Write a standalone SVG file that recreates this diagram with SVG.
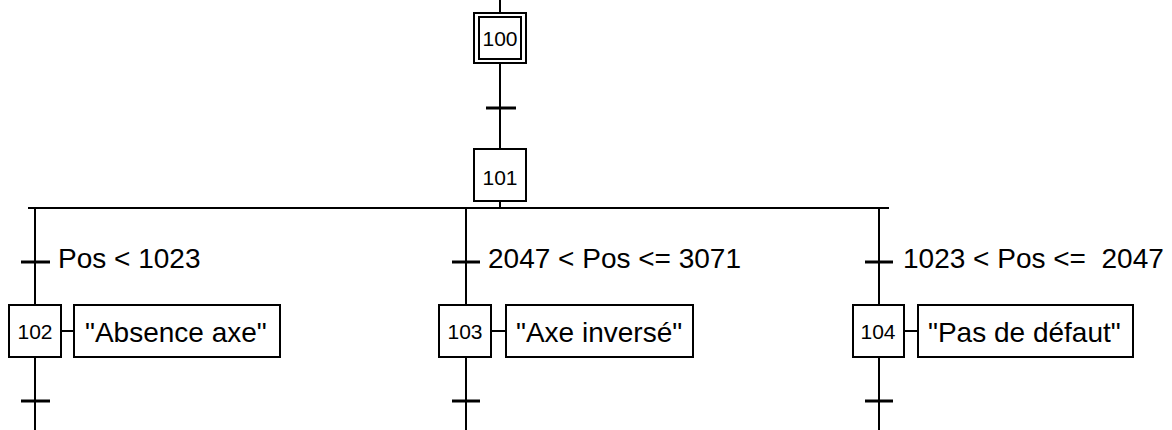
<svg xmlns="http://www.w3.org/2000/svg" width="1172" height="430" viewBox="0 0 1172 430">
  <style>
    .ln { stroke: #000; stroke-width: 2; fill: none; }
    .bar { stroke: #000; stroke-width: 3; }
    .box { fill: #fff; stroke: #000; stroke-width: 2; }
    .num { font-family: "Liberation Sans", Arial, sans-serif; font-size: 21px; fill: #000; text-anchor: middle; }
    .lbl { font-family: "Liberation Sans", Arial, sans-serif; font-size: 28px; fill: #000; }
  </style>

  <!-- links, transitions and action connectors -->
  <g id="connectors">
    <line class="ln" x1="500" y1="0" x2="500" y2="13"/>
    <line class="ln" x1="500" y1="63" x2="500" y2="149"/>
    <line class="bar" x1="486" y1="108" x2="516" y2="108"/>
    <line class="ln" x1="500" y1="201" x2="500" y2="208"/>
    <!-- divergence -->
    <line class="ln" x1="28" y1="208" x2="889" y2="208"/>

    <!-- left branch -->
    <line class="ln" x1="35" y1="208" x2="35" y2="305"/>
    <line class="bar" x1="21" y1="262" x2="50" y2="262"/>
    <line class="ln" x1="35" y1="357" x2="35" y2="430"/>
    <line class="bar" x1="21" y1="401" x2="50" y2="401"/>
    <line class="ln" x1="61" y1="331" x2="74" y2="331"/>

    <!-- middle branch -->
    <line class="ln" x1="466" y1="208" x2="466" y2="305"/>
    <line class="bar" x1="452" y1="262" x2="480" y2="262"/>
    <line class="ln" x1="466" y1="357" x2="466" y2="430"/>
    <line class="bar" x1="452" y1="401" x2="480" y2="401"/>
    <line class="ln" x1="491" y1="331" x2="506" y2="331"/>

    <!-- right branch -->
    <line class="ln" x1="879" y1="208" x2="879" y2="305"/>
    <line class="bar" x1="865" y1="262" x2="893" y2="262"/>
    <line class="ln" x1="879" y1="357" x2="879" y2="430"/>
    <line class="bar" x1="865" y1="401" x2="893" y2="401"/>
    <line class="ln" x1="904" y1="331" x2="918" y2="331"/>
  </g>

  <!-- transition conditions -->
  <g id="conditions">
    <text class="lbl" x="58" y="268">Pos &lt; 1023</text>
    <text class="lbl" x="488" y="268">2047 &lt; Pos &lt;= 3071</text>
    <text class="lbl" x="903" y="268" xml:space="preserve">1023 &lt; Pos &lt;=  2047</text>
  </g>

  <!-- initial step -->
  <g id="step100">
    <rect class="box" x="474" y="13" width="52" height="50"/>
    <rect class="box" x="479" y="17" width="42" height="42"/>
    <text class="num" x="500" y="46">100</text>
  </g>

  <g id="step101">
    <rect class="box" x="474" y="149" width="52" height="52"/>
    <text class="num" x="500" y="185">101</text>
  </g>

  <g id="step102">
    <rect class="box" x="9" y="305" width="52" height="52"/>
    <text class="num" x="35" y="339">102</text>
  </g>
  <g id="action102">
    <rect class="box" x="74" y="305" width="206" height="52"/>
    <text class="lbl" x="85" y="342">"Absence axe"</text>
  </g>

  <g id="step103">
    <rect class="box" x="439" y="305" width="52" height="52"/>
    <text class="num" x="465" y="339">103</text>
  </g>
  <g id="action103">
    <rect class="box" x="506" y="305" width="187" height="52"/>
    <text class="lbl" x="516" y="342">"Axe inversé"</text>
  </g>

  <g id="step104">
    <rect class="box" x="853" y="305" width="51" height="52"/>
    <text class="num" x="878" y="339">104</text>
  </g>
  <g id="action104">
    <rect class="box" x="918" y="305" width="215" height="52"/>
    <text class="lbl" x="928" y="342">"Pas de défaut"</text>
  </g>
</svg>
